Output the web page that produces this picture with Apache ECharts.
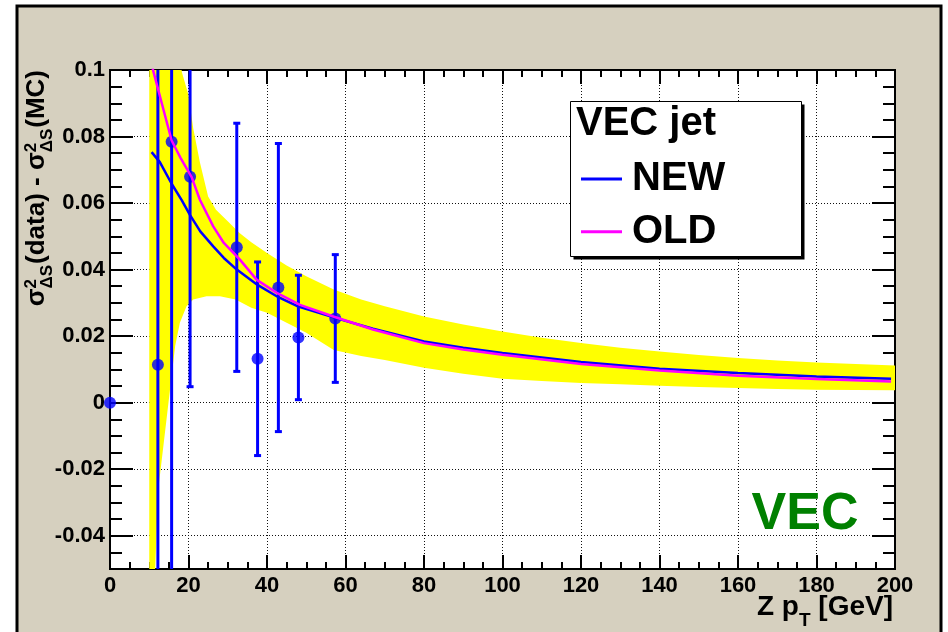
<!DOCTYPE html>
<html>
<head>
<meta charset="utf-8">
<script src="https://cdn.jsdelivr.net/npm/echarts@6/dist/echarts.min.js"></script>
<style>
  html, body { margin: 0; padding: 0; background: #ffffff; }
  #chart { width: 948px; height: 632px; }
</style>
</head>
<body>
<div id="chart"></div>
<script>
// Measured points: Z pT bin centre, value, symmetric error
const pointX   = [0, 12.2, 15.7, 20.4, 32.3, 37.6, 42.9, 48.0, 57.4];
const pointY   = [0, 0.0114, 0.0784, 0.0679, 0.0467, 0.0132, 0.0346, 0.0196, 0.0253];
const pointErr = [0, 0.12, 0.15, 0.0631, 0.0373, 0.0291, 0.0433, 0.0187, 0.0192];

// NEW parametrisation (blue)
const newX = [10.6, 12.7, 15.7, 18.3, 20.4, 23, 26.3, 29, 32.3, 37.6, 42.9, 48, 57.4, 67, 80, 90, 100, 120, 140, 160, 180, 199];
const newY = [0.0753, 0.0723, 0.0658, 0.0608, 0.0564, 0.0515, 0.0470, 0.0435, 0.0400, 0.0354, 0.0317, 0.0289, 0.0255, 0.0222, 0.0184, 0.0165, 0.0149, 0.0122, 0.0102, 0.0089, 0.0079, 0.0072];

// OLD parametrisation (magenta)
const oldX = [10, 11, 12.3, 15.7, 18, 20.8, 22.9, 26.3, 29, 33.1, 37.4, 42.5, 48.4, 56.9, 67, 80, 90, 100, 120, 140, 160, 180, 199];
const oldY = [0.106, 0.0998, 0.0940, 0.0788, 0.0735, 0.0678, 0.0610, 0.0530, 0.0480, 0.0430, 0.0369, 0.0330, 0.0294, 0.0259, 0.0220, 0.0179, 0.0160, 0.0144, 0.0116, 0.0097, 0.0081, 0.0071, 0.0064];

// Uncertainty band of the NEW fit: upper and lower edges
const bandUpX = [10, 14, 18.3, 20, 21.2, 22.9, 25, 27, 30, 33, 36, 40, 45, 50, 57, 64, 70, 80, 90, 100, 110, 120, 130, 140, 150, 160, 170, 180, 190, 200];
const bandUpY = [0.40, 0.16, 0.0994, 0.0925, 0.0825, 0.0723, 0.0620, 0.0580, 0.0545, 0.0510, 0.0482, 0.0450, 0.0412, 0.0380, 0.0340, 0.0310, 0.0290, 0.0259, 0.0235, 0.0214, 0.0195, 0.0179, 0.0165, 0.0154, 0.0143, 0.0134, 0.0127, 0.0121, 0.0116, 0.0112];
const bandLoX = [10, 11, 11.5, 12.3, 13.6, 15.3, 16.6, 17.8, 19.5, 21.2, 24.6, 28, 32, 36, 40, 45, 50, 57, 64, 70, 80, 90, 100, 110, 120, 130, 140, 150, 160, 170, 180, 190, 200];
const bandLoY = [-0.40, -0.12, -0.05, -0.026, -0.013, 0.004, 0.017, 0.024, 0.029, 0.031, 0.032, 0.032, 0.031, 0.0285, 0.027, 0.024, 0.021, 0.0158, 0.0140, 0.0128, 0.0105, 0.0087, 0.0072, 0.0065, 0.0059, 0.0055, 0.0051, 0.0047, 0.0044, 0.0041, 0.0039, 0.0038, 0.0037];

// Axis ticks
const xMin = 0, xMax = 200, xStep = 20;
const yMin = -0.05, yMax = 0.1;
const yMajorTicks = [-0.04, -0.02, 0, 0.02, 0.04, 0.06, 0.08, 0.1];
const yMinorStep = 0.005;

const legendNames = ['NEW', 'OLD'];
const legendTitle = 'VEC jet';
const cornerLabel = 'VEC';

const FONT = '"Liberation Sans", Arial, Helvetica, sans-serif';
const BLUE = '#0000ff', MAGENTA = '#ff00ff', YELLOW = '#ffff00', BEIGE = '#d6d0bf';

const measureCtx = document.createElement('canvas').getContext('2d');
function textWidth(t, size) {
  measureCtx.font = 'bold ' + size + 'px ' + FONT;
  return measureCtx.measureText(t).width;
}
function txt(t, size, x, y, align, extra) {
  return Object.assign({
    type: 'text', x: x, y: y, silent: true,
    style: { text: t, font: 'bold ' + size + 'px ' + FONT, fill: '#000', align: align || 'left', verticalAlign: 'middle' }
  }, extra || {});
}

// Rotated y-axis title: sigma^2_{Delta S}(data) - sigma^2_{Delta S}(MC), right aligned to the top
function buildYTitle() {
  const big = 26, small = 17;
  const parts = [{ t: 'σ' }, { sup: '2', sub: 'ΔS' }, { t: '(data) - ' }, { t: 'σ' }, { sup: '2', sub: 'ΔS' }, { t: '(MC)' }];
  const widths = parts.map(p => p.t ? textWidth(p.t, big) : Math.max(textWidth(p.sup, small), textWidth(p.sub, small)) + 1);
  const total = widths.reduce((a, b) => a + b, 0);
  const children = [];
  let pos = -total;
  parts.forEach((p, i) => {
    if (p.t) {
      children.push(txt(p.t, big, pos, -0.36 * big, 'left'));
    } else {
      children.push(txt(p.sup, small, pos, -15, 'left'));
      children.push(txt(p.sub, small, pos, 1, 'left'));
    }
    pos += widths[i];
  });
  return { type: 'group', x: 46, y: 70, rotation: Math.PI / 2, z: 10, children: children };
}

// x-axis title: Z p_T [GeV], right aligned with the axis end
function buildXTitle() {
  const big = 28, small = 19;
  const w3 = textWidth(' [GeV]', big), w2 = textWidth('T', small);
  return {
    type: 'group', x: 893, y: 607, z: 10,
    children: [
      txt(' [GeV]', big, 0, 0, 'right'),
      txt('T', small, -w3, 14, 'right'),
      txt('Z p', big, -w3 - w2, 0, 'right')
    ]
  };
}

const chart = echarts.init(document.getElementById('chart'), null, { renderer: 'canvas' });

const labelStyle = { color: '#000', fontFamily: FONT, fontWeight: 'bold', fontSize: 22 };
const blackLine = { color: '#000', width: 2 };

const option = {
  animation: false,
  backgroundColor: '#ffffff',
  grid: { left: 110, right: 53, top: 70, bottom: 63, show: true, backgroundColor: '#ffffff', borderColor: '#000', borderWidth: 2 },
  legend: {
    data: legendNames, orient: 'vertical', left: 581, top: 159, padding: 0,
    itemWidth: 41, itemHeight: 3, itemGap: 12.7, icon: 'rect', selectedMode: false, z: 8,
    textStyle: { color: '#000', fontFamily: FONT, fontWeight: 'bold', fontSize: 40, lineHeight: 40, padding: [0, 0, 0, 5] }
  },
  xAxis: [
    {
      type: 'value', position: 'bottom', min: xMin, max: xMax, interval: xStep,
      axisLine: { show: true, onZero: false, lineStyle: blackLine },
      axisTick: { show: true, inside: true, length: 14, lineStyle: blackLine },
      minorTick: { show: true, splitNumber: 4, length: 7, lineStyle: blackLine },
      axisLabel: Object.assign({ margin: 6 }, labelStyle),
      splitLine: { show: true, lineStyle: { color: '#111', width: 1, type: [1, 2] } }
    },
    {
      type: 'value', position: 'top', min: xMin, max: xMax, interval: xStep,
      axisLine: { show: true, onZero: false, lineStyle: blackLine },
      axisTick: { show: true, inside: true, length: 14, lineStyle: blackLine },
      minorTick: { show: true, splitNumber: 4, length: 7, lineStyle: blackLine },
      axisLabel: { show: false }, splitLine: { show: false }
    }
  ],
  yAxis: [
    {
      type: 'value', position: 'left', min: yMin, max: yMax,
      axisLine: { show: true, onZero: false, lineStyle: blackLine },
      axisTick: { show: true, inside: true, length: 23, lineStyle: blackLine, customValues: yMajorTicks },
      axisLabel: Object.assign({ margin: 5, customValues: yMajorTicks }, labelStyle),
      splitLine: { show: true, lineStyle: { color: '#111', width: 1, type: [1, 2] } }
    },
    {
      type: 'value', position: 'left', min: yMin, max: yMax, interval: yMinorStep,
      axisLine: { show: false, onZero: false },
      axisTick: { show: true, inside: true, length: 12, lineStyle: blackLine },
      axisLabel: { show: false }, splitLine: { show: false }
    },
    {
      type: 'value', position: 'right', min: yMin, max: yMax,
      axisLine: { show: true, onZero: false, lineStyle: blackLine },
      axisTick: { show: true, inside: true, length: 23, lineStyle: blackLine, customValues: yMajorTicks },
      axisLabel: { show: false }, splitLine: { show: false }
    },
    {
      type: 'value', position: 'right', min: yMin, max: yMax, interval: yMinorStep,
      axisLine: { show: false, onZero: false },
      axisTick: { show: true, inside: true, length: 12, lineStyle: blackLine },
      axisLabel: { show: false }, splitLine: { show: false }
    }
  ],
  series: [
    {
      name: 'band', type: 'custom', clip: true, z: 1, silent: true,
      data: [[bandUpX[0], 0]],
      renderItem: function (params, api) {
        const pts = [];
        for (let i = 0; i < bandUpX.length; i++) pts.push(api.coord([bandUpX[i], bandUpY[i]]));
        for (let i = bandLoX.length - 1; i >= 0; i--) pts.push(api.coord([bandLoX[i], bandLoY[i]]));
        return { type: 'polygon', shape: { points: pts }, style: { fill: YELLOW, stroke: null } };
      }
    },
    {
      name: 'errors', type: 'custom', clip: true, z: 3, silent: true,
      data: pointX.map((x, i) => [x, pointY[i], pointErr[i]]).filter(d => d[2] > 0),
      renderItem: function (params, api) {
        const x = api.value(0), y = api.value(1), e = api.value(2);
        const hi = api.coord([x, y + e]), lo = api.coord([x, y - e]);
        const c = 3.5, st = { stroke: BLUE, lineWidth: 3 };
        return {
          type: 'group', children: [
            { type: 'line', shape: { x1: hi[0], y1: hi[1], x2: lo[0], y2: lo[1] }, style: st },
            { type: 'line', shape: { x1: hi[0] - c, y1: hi[1], x2: hi[0] + c, y2: hi[1] }, style: st },
            { type: 'line', shape: { x1: lo[0] - c, y1: lo[1], x2: lo[0] + c, y2: lo[1] }, style: st }
          ]
        };
      }
    },
    {
      name: 'data', type: 'scatter', clip: false, z: 4, silent: true,
      symbol: 'circle', symbolSize: 12, itemStyle: { color: BLUE },
      data: pointX.map((x, i) => [x, pointY[i]])
    },
    {
      name: 'NEW', type: 'line', z: 5, showSymbol: false, silent: true, clip: true,
      color: BLUE, itemStyle: { color: BLUE }, lineStyle: { color: BLUE, width: 2.5 },
      data: newX.map((x, i) => [x, newY[i]])
    },
    {
      name: 'OLD', type: 'line', z: 6, showSymbol: false, silent: true, clip: true,
      color: MAGENTA, itemStyle: { color: MAGENTA }, lineStyle: { color: MAGENTA, width: 2.5 },
      data: oldX.map((x, i) => [x, oldY[i]])
    }
  ],
  graphic: [
    // canvas frame
    { type: 'rect', z: -100, silent: true, shape: { x: 17, y: 6, width: 924, height: 700 }, style: { fill: BEIGE, stroke: '#000', lineWidth: 3 } },
    // legend box with shadow
    { type: 'rect', z: 7, silent: true, shape: { x: 573.5, y: 104.5, width: 231, height: 155 }, style: { fill: '#000' } },
    { type: 'rect', z: 7, silent: true, shape: { x: 570.5, y: 101.5, width: 231, height: 155 }, style: { fill: '#fff', stroke: '#000', lineWidth: 1 } },
    txt(legendTitle, 40, 576, 124, 'left', { z: 8 }),
    // corner label
    { type: 'text', x: 805, y: 515, z: 10, silent: true, style: { text: cornerLabel, font: 'bold 52px ' + FONT, fill: '#008000', align: 'center', verticalAlign: 'middle' } },
    buildXTitle(),
    buildYTitle()
  ]
};

chart.setOption(option);
</script>
</body>
</html>
